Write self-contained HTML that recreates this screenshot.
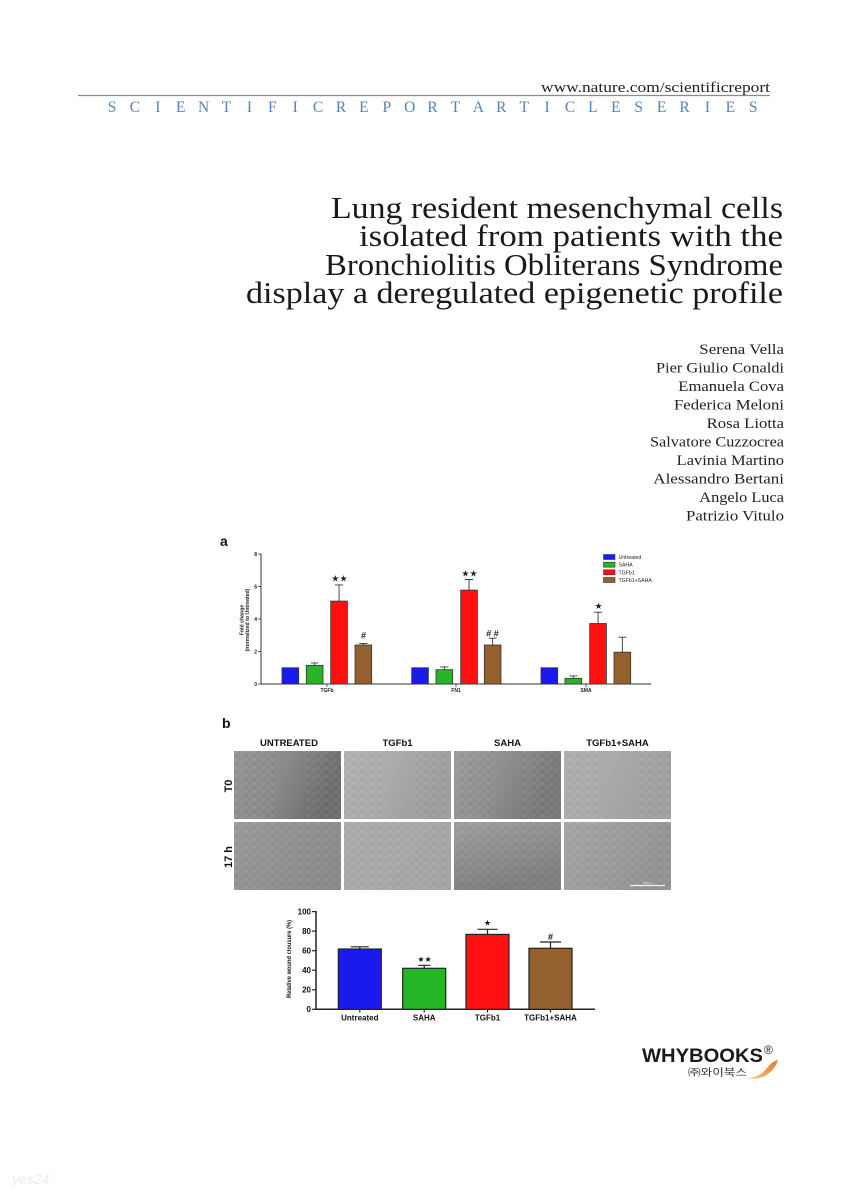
<!DOCTYPE html>
<html>
<head>
<meta charset="utf-8">
<style>
html,body{margin:0;padding:0;background:#fff;}
svg{display:block;}
</style>
</head>
<body>
<svg width="849" height="1200" viewBox="0 0 849 1200" xmlns="http://www.w3.org/2000/svg">
<defs>
  <pattern id="tex" width="9" height="8" patternUnits="userSpaceOnUse">
    <path d="M0 2 l4 -1.5 M5 6 l3 -2.5 M1 7 l3 0.8 M6 1 l2 2" stroke="#ffffff" stroke-opacity="0.3" stroke-width="0.7" fill="none"/>
    <path d="M0 3 l4 -1.5 M5 7 l3 -2.5 M2 5 l2 -2" stroke="#222" stroke-opacity="0.25" stroke-width="0.7" fill="none"/>
  </pattern>
  <linearGradient id="g1a" x1="0" y1="0" x2="1" y2="0.3">
    <stop offset="0" stop-color="#959595"/><stop offset="0.5" stop-color="#8a8a8a"/><stop offset="1" stop-color="#6c6c6c"/>
  </linearGradient>
  <linearGradient id="g2a" x1="0" y1="0" x2="1" y2="0.3">
    <stop offset="0" stop-color="#b2b2b2"/><stop offset="0.5" stop-color="#aaaaaa"/><stop offset="1" stop-color="#9d9d9d"/>
  </linearGradient>
  <linearGradient id="g3a" x1="0" y1="0" x2="1" y2="0.3">
    <stop offset="0" stop-color="#9c9c9c"/><stop offset="0.5" stop-color="#8e8e8e"/><stop offset="1" stop-color="#777777"/>
  </linearGradient>
  <linearGradient id="g4a" x1="0" y1="0" x2="1" y2="0.3">
    <stop offset="0" stop-color="#b0b0b0"/><stop offset="0.5" stop-color="#a9a9a9"/><stop offset="1" stop-color="#a0a0a0"/>
  </linearGradient>
  <linearGradient id="g1b" x1="0" y1="0" x2="1" y2="0.5">
    <stop offset="0" stop-color="#9a9a9a"/><stop offset="1" stop-color="#8a8a8a"/>
  </linearGradient>
  <linearGradient id="g2b" x1="0" y1="0" x2="1" y2="0.5">
    <stop offset="0" stop-color="#ababab"/><stop offset="1" stop-color="#a5a5a5"/>
  </linearGradient>
  <linearGradient id="g3b" x1="0" y1="0" x2="0.4" y2="1">
    <stop offset="0" stop-color="#9e9e9e"/><stop offset="1" stop-color="#7e7e7e"/>
  </linearGradient>
  <linearGradient id="g4b" x1="0" y1="0" x2="1" y2="0.4">
    <stop offset="0" stop-color="#a6a6a6"/><stop offset="1" stop-color="#939393"/>
  </linearGradient>
  <linearGradient id="swoosh" x1="0" y1="1" x2="1" y2="0">
    <stop offset="0" stop-color="#f7c98a"/><stop offset="1" stop-color="#e07a1c"/>
  </linearGradient>
</defs>

<!-- Header -->
<text x="770" y="92" text-anchor="end" font-family="Liberation Serif, serif" font-size="15" fill="#222" textLength="229" lengthAdjust="spacingAndGlyphs">www.nature.com/scientificreport</text>
<line x1="78" y1="95.5" x2="770" y2="95.5" stroke="#8a8a8a" stroke-width="1.2"/>
<text y="112" font-family="Liberation Serif, serif" font-size="15.5" fill="#5683b3" text-anchor="middle"
 x="112 134.9 157.8 180.7 203.6 226.5 249.4 272.3 295.2 318.1 341 363.9 386.8 409.7 432.6 455.5 478.4 501.3 524.2 547.1 570 592.9 615.8 638.7 661.6 684.5 707.4 730.3 753.2">SCIENTIFICREPORTARTICLESERIES</text>

<!-- Title -->
<g font-family="Liberation Serif, serif" font-size="31" fill="#1a1a1a">
  <text x="331" y="218" textLength="452" lengthAdjust="spacingAndGlyphs">Lung resident mesenchymal cells</text>
  <text x="359" y="246" textLength="424" lengthAdjust="spacingAndGlyphs">isolated from patients with the</text>
  <text x="325" y="275" textLength="458" lengthAdjust="spacingAndGlyphs">Bronchiolitis Obliterans Syndrome</text>
  <text x="246" y="303" textLength="537" lengthAdjust="spacingAndGlyphs">display a deregulated epigenetic profile</text>
</g>

<!-- Authors -->
<g font-family="Liberation Serif, serif" font-size="14.5" fill="#222">
  <text x="699.3" y="354" textLength="84.7" lengthAdjust="spacingAndGlyphs">Serena Vella</text>
  <text x="656" y="372.5" textLength="128" lengthAdjust="spacingAndGlyphs">Pier Giulio Conaldi</text>
  <text x="678.3" y="391" textLength="105.7" lengthAdjust="spacingAndGlyphs">Emanuela Cova</text>
  <text x="674" y="409.5" textLength="110" lengthAdjust="spacingAndGlyphs">Federica Meloni</text>
  <text x="706.7" y="428" textLength="77.3" lengthAdjust="spacingAndGlyphs">Rosa Liotta</text>
  <text x="650" y="446.5" textLength="134" lengthAdjust="spacingAndGlyphs">Salvatore Cuzzocrea</text>
  <text x="676.7" y="465" textLength="107.3" lengthAdjust="spacingAndGlyphs">Lavinia Martino</text>
  <text x="653.3" y="483.5" textLength="130.7" lengthAdjust="spacingAndGlyphs">Alessandro Bertani</text>
  <text x="699.3" y="502" textLength="84.7" lengthAdjust="spacingAndGlyphs">Angelo Luca</text>
  <text x="686" y="520.5" textLength="98" lengthAdjust="spacingAndGlyphs">Patrizio Vitulo</text>
</g>

<!-- Chart a -->
<text x="220" y="546" font-family="Liberation Sans, sans-serif" font-weight="bold" font-size="14" fill="#111">a</text>
<g font-family="Liberation Sans, sans-serif" font-weight="bold" fill="#222">
  <line x1="261" y1="553.5" x2="261" y2="684.5" stroke="#333" stroke-width="1"/>
  <line x1="260.5" y1="684" x2="651" y2="684" stroke="#333" stroke-width="1"/>
  <g stroke="#333" stroke-width="0.8">
    <line x1="258" y1="554" x2="261" y2="554"/>
    <line x1="258" y1="586.5" x2="261" y2="586.5"/>
    <line x1="258" y1="619" x2="261" y2="619"/>
    <line x1="258" y1="651.5" x2="261" y2="651.5"/>
    <line x1="258" y1="684" x2="261" y2="684"/>
    <line x1="327" y1="684" x2="327" y2="687"/>
    <line x1="456" y1="684" x2="456" y2="687"/>
    <line x1="586" y1="684" x2="586" y2="687"/>
  </g>
  <g font-size="5" text-anchor="end">
    <text x="257" y="556">8</text>
    <text x="257" y="588.5">6</text>
    <text x="257" y="621">4</text>
    <text x="257" y="653.5">2</text>
    <text x="257" y="686">0</text>
  </g>
  <g font-size="5" text-anchor="middle">
    <text x="327" y="692">TGFb</text>
    <text x="456" y="692">FN1</text>
    <text x="586" y="692">SMA</text>
  </g>
  <g font-size="5.2" text-anchor="middle">
    <text transform="translate(243.5,620) rotate(-90)">Fold change</text>
    <text transform="translate(249,620) rotate(-90)">(normalized to Untreated)</text>
  </g>
  <g stroke="#333" stroke-width="0.8">
    <rect x="282" y="667.75" width="16.7" height="16.25" fill="#1a1aee"/>
    <rect x="306.3" y="665.3" width="16.7" height="18.7" fill="#26b526"/>
    <rect x="330.7" y="601.1" width="16.7" height="82.9" fill="#ff1010"/>
    <rect x="355" y="645" width="16.7" height="39" fill="#94602e"/>

    <rect x="411.7" y="667.75" width="16.7" height="16.25" fill="#1a1aee"/>
    <rect x="436" y="669.7" width="16.7" height="14.3" fill="#26b526"/>
    <rect x="460.7" y="590.1" width="16.7" height="93.9" fill="#ff1010"/>
    <rect x="484.3" y="645" width="16.7" height="39" fill="#94602e"/>

    <rect x="541" y="667.75" width="16.7" height="16.25" fill="#1a1aee"/>
    <rect x="565" y="678.3" width="16.7" height="5.7" fill="#26b526"/>
    <rect x="589.7" y="623.5" width="16.7" height="60.5" fill="#ff1010"/>
    <rect x="614" y="652.2" width="16.7" height="31.8" fill="#94602e"/>
  </g>
  <g stroke="#333" stroke-width="0.9" fill="none">
    <path d="M314.65 665.3 V662.9 M311 662.9 H318.3"/>
    <path d="M339.05 601.1 V584.9 M335 584.9 H343.1"/>
    <path d="M363.35 645 V643.4 M359.3 643.4 H367.4"/>
    <path d="M444.35 669.7 V666.9 M440.3 666.9 H448.4"/>
    <path d="M469.05 590.1 V579.5 M465 579.5 H473.1"/>
    <path d="M492.65 645 V638.2 M488.6 638.2 H496.7"/>
    <path d="M573.35 678.3 V675.9 M569.3 675.9 H577.4"/>
    <path d="M598.05 623.5 V612.2 M594 612.2 H602.1"/>
    <path d="M622.35 652.2 V637.2 M618.3 637.2 H626.4"/>
  </g>
  <g font-family="DejaVu Sans, sans-serif" font-size="9" text-anchor="middle" fill="#222">
    <text x="339.5" y="581.5">★★</text>
    <text x="469.5" y="576.5">★★</text>
    <text x="598.5" y="609">★</text>
  </g>
  <g font-size="9" text-anchor="middle" fill="#222">
    <text x="363.5" y="638.5">#</text>
    <text x="492.5" y="636.5"># #</text>
  </g>
  <g stroke="#333" stroke-width="0.6">
    <rect x="603.5" y="554.5" width="11.5" height="5" fill="#1a1aee"/>
    <rect x="603.5" y="562.2" width="11.5" height="5" fill="#26b526"/>
    <rect x="603.5" y="569.8" width="11.5" height="5" fill="#ff1010"/>
    <rect x="603.5" y="577.5" width="11.5" height="5" fill="#94602e"/>
  </g>
  <g font-size="5.2" font-weight="normal" fill="#222">
    <text x="618.5" y="559">Untreated</text>
    <text x="618.5" y="566.7">SAHA</text>
    <text x="618.5" y="574.3">TGFb1</text>
    <text x="618.5" y="582">TGFb1+SAHA</text>
  </g>
</g>

<!-- Chart b: micrographs -->
<text x="222" y="728" font-family="Liberation Sans, sans-serif" font-weight="bold" font-size="14" fill="#111">b</text>
<g font-family="Liberation Sans, sans-serif" font-weight="bold" font-size="9.5" fill="#111" text-anchor="middle">
  <text x="289" y="746">UNTREATED</text>
  <text x="397.5" y="746">TGFb1</text>
  <text x="507.5" y="746">SAHA</text>
  <text x="617.5" y="746">TGFb1+SAHA</text>
  <text transform="translate(232,786) rotate(-90)" font-size="11">T0</text>
  <text transform="translate(232,857) rotate(-90)" font-size="11">17 h</text>
</g>
<g>
  <rect x="234" y="751" width="107" height="68" fill="url(#g1a)"/>
  <rect x="234" y="751" width="40" height="68" fill="url(#tex)" opacity="0.5"/>
  <rect x="306" y="751" width="35" height="68" fill="url(#tex)" opacity="0.5"/>
  <rect x="344" y="751" width="107" height="68" fill="url(#g2a)"/>
  <rect x="344" y="751" width="42" height="68" fill="url(#tex)" opacity="0.45"/>
  <rect x="412" y="751" width="39" height="68" fill="url(#tex)" opacity="0.45"/>
  <rect x="454" y="751" width="107" height="68" fill="url(#g3a)"/>
  <rect x="454" y="751" width="42" height="68" fill="url(#tex)" opacity="0.5"/>
  <rect x="521" y="751" width="40" height="68" fill="url(#tex)" opacity="0.5"/>
  <rect x="564" y="751" width="107" height="68" fill="url(#g4a)"/>
  <rect x="564" y="751" width="38" height="68" fill="url(#tex)" opacity="0.45"/>
  <rect x="636" y="751" width="35" height="68" fill="url(#tex)" opacity="0.45"/>
  <rect x="234" y="822" width="107" height="68" fill="url(#g1b)"/>
  <rect x="234" y="822" width="107" height="68" fill="url(#tex)" opacity="0.4"/>
  <rect x="344" y="822" width="107" height="68" fill="url(#g2b)"/>
  <rect x="344" y="822" width="107" height="68" fill="url(#tex)" opacity="0.4"/>
  <rect x="454" y="822" width="107" height="68" fill="url(#g3b)"/>
  <rect x="454" y="822" width="107" height="68" fill="url(#tex)" opacity="0.4"/>
  <rect x="564" y="822" width="107" height="68" fill="url(#g4b)"/>
  <rect x="564" y="822" width="107" height="68" fill="url(#tex)" opacity="0.4"/>
  <line x1="630" y1="885.5" x2="665" y2="885.5" stroke="#f4f4f4" stroke-width="1.2"/>
  <text x="647.5" y="884" font-family="Liberation Sans, sans-serif" font-size="3" fill="#eee" text-anchor="middle">100 µm</text>
</g>

<!-- Chart b: bar chart -->
<g font-family="Liberation Sans, sans-serif" font-weight="bold" fill="#111">
  <line x1="316" y1="911" x2="316" y2="1010" stroke="#222" stroke-width="1.5"/>
  <line x1="315.3" y1="1009.3" x2="595" y2="1009.3" stroke="#222" stroke-width="1.5"/>
  <g stroke="#222" stroke-width="1.2">
    <line x1="312" y1="911.6" x2="316" y2="911.6"/>
    <line x1="312" y1="931.1" x2="316" y2="931.1"/>
    <line x1="312" y1="950.7" x2="316" y2="950.7"/>
    <line x1="312" y1="970.2" x2="316" y2="970.2"/>
    <line x1="312" y1="989.8" x2="316" y2="989.8"/>
    <line x1="312" y1="1009.3" x2="316" y2="1009.3"/>
    <line x1="359.8" y1="1009.3" x2="359.8" y2="1012.5"/>
    <line x1="424.2" y1="1009.3" x2="424.2" y2="1012.5"/>
    <line x1="487.5" y1="1009.3" x2="487.5" y2="1012.5"/>
    <line x1="550.5" y1="1009.3" x2="550.5" y2="1012.5"/>
  </g>
  <g font-size="8" text-anchor="end">
    <text x="311" y="914.5">100</text>
    <text x="311" y="934">80</text>
    <text x="311" y="953.6">60</text>
    <text x="311" y="973.1">40</text>
    <text x="311" y="992.7">20</text>
    <text x="311" y="1012.2">0</text>
  </g>
  <text transform="translate(291,959) rotate(-90)" font-size="6.5" text-anchor="middle" textLength="78" lengthAdjust="spacingAndGlyphs">Relative wound clousure (%)</text>
  <g font-size="8" text-anchor="middle">
    <text x="359.8" y="1020.5">Untreated</text>
    <text x="424.2" y="1020.5">SAHA</text>
    <text x="487.5" y="1020.5">TGFb1</text>
    <text x="550.5" y="1020.5">TGFb1+SAHA</text>
  </g>
  <g stroke="#222" stroke-width="1.2">
    <rect x="338.3" y="949" width="43" height="60.3" fill="#1a1aee"/>
    <rect x="402.7" y="968.3" width="43" height="41" fill="#26b526"/>
    <rect x="466" y="934.4" width="43" height="74.9" fill="#ff1010"/>
    <rect x="529" y="948.3" width="43" height="61" fill="#94602e"/>
  </g>
  <g stroke="#222" stroke-width="1.2" fill="none">
    <path d="M359.8 949 V946.8 M350.8 946.8 H368.8"/>
    <path d="M424.2 968.3 V965.3 M418.2 965.3 H430.2"/>
    <path d="M487.5 934.4 V929.3 M477.5 929.3 H497.5"/>
    <path d="M550.5 948.3 V942 M540 942 H561"/>
  </g>
  <g font-family="DejaVu Sans, sans-serif" font-size="8" text-anchor="middle">
    <text x="424.5" y="962">★★</text>
    <text x="487.5" y="925.5">★</text>
  </g>
  <text x="550.5" y="940" font-size="9" text-anchor="middle">#</text>
</g>

<!-- Logo -->
<g font-family="Liberation Sans, sans-serif">
  <text x="642" y="1062" font-size="19" font-weight="bold" fill="#1a1a1a" textLength="121" lengthAdjust="spacingAndGlyphs">WHYBOOKS</text>
  <text x="764" y="1054" font-size="12" fill="#1a1a1a">®</text>
  <text x="688" y="1076" font-family="Liberation Sans, 'Noto Sans CJK KR', sans-serif" font-size="10" fill="#333" textLength="59" lengthAdjust="spacingAndGlyphs">㈜와이북스</text>
  <path d="M746 1078 C756 1078 762 1074 767 1068 C771 1063 774 1061 778 1060 C776 1066 772 1072 765 1076 C759 1079 752 1079 746 1078 Z" fill="url(#swoosh)"/>
</g>

<text x="12" y="1184" font-family="Liberation Sans, sans-serif" font-style="italic" font-size="14" fill="#ececec">yes24</text>
</svg>
</body>
</html>
